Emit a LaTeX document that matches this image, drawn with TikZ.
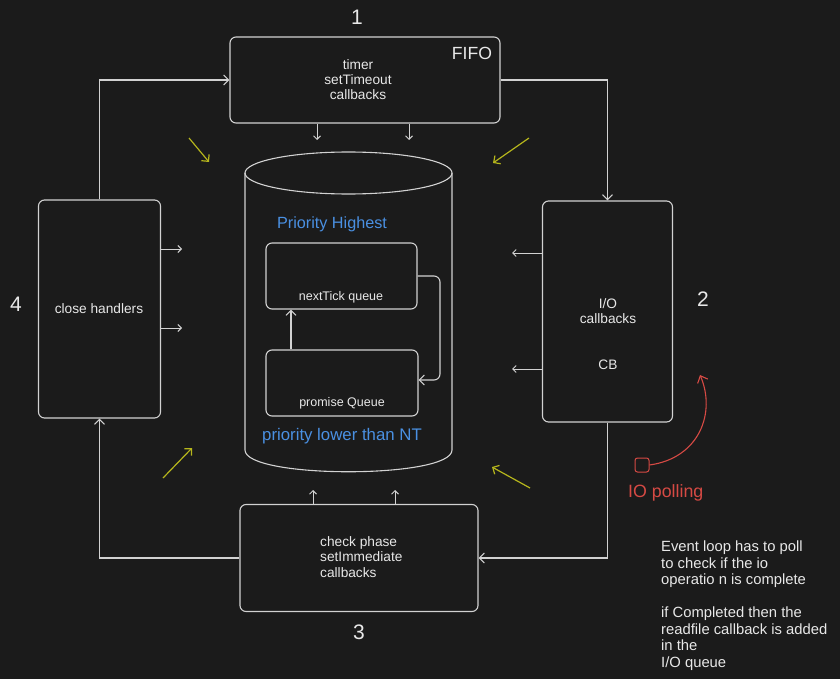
\documentclass[tikz,border=0pt]{standalone}
\usepackage{fontspec}
\setmainfont{Liberation Sans}
\usetikzlibrary{arrows.meta}
\definecolor{bg}{RGB}{27,27,27}
\definecolor{strk}{RGB}{210,210,210}
\definecolor{txt}{RGB}{232,232,232}
\definecolor{blu}{RGB}{74,144,226}
\definecolor{ylw}{RGB}{182,182,28}
\definecolor{rd}{RGB}{214,74,68}
\begin{document}
\begin{tikzpicture}[x=1pt,y=-1pt,
  box/.style={draw=strk,line width=1.1pt,rounded corners=6pt,inner sep=0pt},
  conn/.style={draw=strk,line width=1.1pt,-{Straight Barb[length=5pt,width=10pt]}},
  sconn/.style={draw=strk,line width=1pt,-{Straight Barb[length=3.5pt,width=7pt]}},
  yarr/.style={draw=ylw,line width=1.2pt,-{Straight Barb[length=5pt,width=10pt]}},
  lbl/.style={text=txt,inner sep=0pt,font=\fontsize{13.7}{15}\selectfont,align=center},
  num/.style={text=txt,inner sep=0pt,font=\fontsize{21}{24}\selectfont},
  blab/.style={text=blu,inner sep=0pt,font=\fontsize{16.2}{18}\selectfont}]
\fill[bg] (0,0) rectangle (840,679);
\useasboundingbox (0,0) rectangle (840,679);

% main boxes
\node[box,minimum width=270pt,minimum height=86pt] (timer) at (365,80) {};
\node[box,minimum width=130pt,minimum height=221pt] (io) at (607.5,311.5) {};
\node[box,minimum width=238pt,minimum height=107pt] (check) at (359,558) {};
\node[box,minimum width=122pt,minimum height=218pt] (close) at (99.5,309) {};

% cylinder
\draw[strk,line width=1.1pt] (348.5,173) ellipse [x radius=103.5pt,y radius=21pt];
\draw[strk,line width=1.1pt] (245,173) -- (245,450) .. controls (245,479) and (452,479) .. (452,450) -- (452,173);

% inner boxes
\node[box,minimum width=151pt,minimum height=66pt] (nt) at (341.5,276) {};
\node[box,minimum width=152pt,minimum height=66pt] (pq) at (342,383) {};

% texts
\node[lbl] (ttimer) at (358,80) {timer\\setTimeout\\callbacks};
\node[text=txt,inner sep=0pt,font=\fontsize{17.6}{20}\selectfont] (fifo) at (472,53) {FIFO};
\node[lbl] (tio) at (608,311.5) {I/O\\callbacks};
\node[lbl] (tcb) at (608,365) {CB};
\node[lbl] (tclose) at (99,309) {close handlers};
\node[lbl,align=left,anchor=west,font=\fontsize{13.7}{15.5}\selectfont] (tcheck) at (320,557) {check phase\\setImmediate\\callbacks};
\node[lbl,font=\fontsize{12.5}{14}\selectfont] (tnt) at (341,297) {nextTick queue};
\node[lbl,font=\fontsize{12.5}{14}\selectfont] (tpq) at (342,403) {promise Queue};
\node[blab] (phigh) at (332,224) {Priority Highest};
\node[blab,font=\fontsize{16.8}{18}\selectfont] (plow) at (342,436) {priority lower than NT};

\node[num] (n1) at (357,17) {1};
\node[num] (n2) at (703,299) {2};
\node[num] (n3) at (359,632) {3};
\node[num] (n4) at (16,304) {4};

% main loop connectors
\draw[conn] (close.north) |- (timer.west);
\draw[conn] (timer.east) -| (io.north);
\draw[conn] (io.south) |- (check.east);
\draw[conn] (check.west) -| (close.south);

% small arrows
\coordinate (t1) at (317,140);
\coordinate (t2) at (409,140);
\draw[sconn] (timer.south -| t1) -- (t1);
\draw[sconn] (timer.south -| t2) -- (t2);
\coordinate (i1) at (512,253);
\coordinate (i2) at (512,369);
\draw[sconn] (io.west |- i1) -- (i1);
\draw[sconn] (io.west |- i2) -- (i2);
\coordinate (c1) at (182,249);
\coordinate (c2) at (182,328);
\draw[sconn] (close.east |- c1) -- (c1);
\draw[sconn] (close.east |- c2) -- (c2);
\coordinate (k1) at (313,490);
\coordinate (k2) at (395,490);
\draw[sconn] (check.north -| k1) -- (k1);
\draw[sconn] (check.north -| k2) -- (k2);

% inner connectors
\coordinate (pqx) at (291,0);
\draw[conn] (pq.north -| pqx) -- (nt.south -| pqx);
\draw[conn,rounded corners=6pt] (nt.east) -- (440,276) -- (440,380) -- (pq.east |- 0,380);

% yellow arrows
\coordinate (y1a) at (189,138); \coordinate (y1b) at (209,162);
\coordinate (y2a) at (529,138); \coordinate (y2b) at (493,163);
\coordinate (y3a) at (163,478); \coordinate (y3b) at (192,448);
\coordinate (y4a) at (530,488); \coordinate (y4b) at (492,467);
\draw[yarr] (y1a) -- (y1b);
\draw[yarr] (y2a) -- (y2b);
\draw[yarr] (y3a) -- (y3b);
\draw[yarr] (y4a) -- (y4b);

% IO polling
\node[draw=rd,line width=1pt,rounded corners=2.5pt,minimum size=14pt,inner sep=0pt] (sq) at (642,465) {};
\coordinate (rtip) at (700,375);
\draw[draw=rd,line width=1.1pt,-{Straight Barb[length=6pt,width=11pt]}] (sq.east) .. controls (700,458) and (716,412) .. (rtip);
\node[text=rd,inner sep=0pt,anchor=west,font=\fontsize{17.8}{20}\selectfont] (iop) at (628,493) {IO polling};

% note
\node[text=txt,inner sep=0pt,anchor=north west,align=left,font=\fontsize{14.8}{16.5}\selectfont] (note) at (661,541)
 {Event loop has to poll\\to check if the io\\operatio n is complete\\[16.5pt]if Completed then the\\readfile callback is added\\in the\\I/O queue};
\end{tikzpicture}
\end{document}
